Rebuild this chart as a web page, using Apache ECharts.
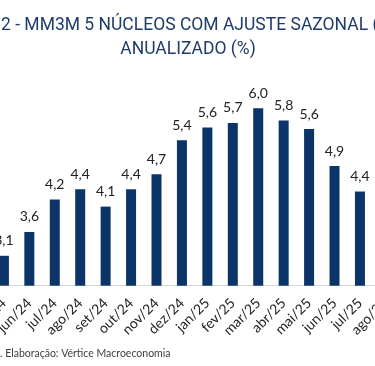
<!DOCTYPE html>
<html><head><meta charset="utf-8">
<script src="https://cdn.jsdelivr.net/npm/echarts@6/dist/echarts.min.js"></script>
<style>html,body{margin:0;padding:0;overflow:hidden;background:#fff;width:375px;height:366px;position:relative}
#c{position:absolute;left:-20px;top:0;width:430px;height:366px}</style>
</head><body><div id="c"></div>
<script>
const categories = ['mai/24','jun/24','jul/24','ago/24','set/24','out/24','nov/24','dez/24','jan/25','fev/25','mar/25','abr/25','mai/25','jun/25','jul/25','ago/25'];
const values = [3.09, 3.56, 4.20, 4.40, 4.06, 4.40, 4.70, 5.37, 5.62, 5.71, 6.00, 5.76, 5.59, 4.86, 4.36, null];
const titleLine1 = '2 - MM3M 5 NÚCLEOS COM AJUSTE SAZONAL (';
const titleLine2 = 'ANUALIZADO (%)';
const footer = '. Elaboração: Vértice Macroeconomia';

const chart = echarts.init(document.getElementById('c'), null, {renderer:'canvas'});
const OX = 20; // container offset
chart.setOption({
  animation:false,
  backgroundColor:'#fff',
  graphic:[
    {type:'text', left:OX+1, top:17, style:{text:titleLine1, fill:'#1F3B6B', font:'17.5px Roboto'}},
    {type:'text', x:OX+188, y:41, style:{text:titleLine2, fill:'#1F3B6B', font:'17.5px Roboto', textAlign:'center', textVerticalAlign:'top'}},
    {type:'text', left:OX+0, top:348, style:{text:footer, fill:'#404040', font:'10.5px Lato'}}
  ],
  grid:{left:11.2, right:11.9, top:82.9, bottom:80.3, containLabel:false, outerBoundsMode:'none'},
  xAxis:{type:'category', data:categories,
    axisLine:{lineStyle:{color:'#D9D9D9', width:1}}, axisTick:{show:false},
    axisLabel:{rotate:45, margin:15, color:'#222', fontSize:14, fontFamily:'Lato', interval:0}},
  yAxis:{type:'value', min:2.5, max:6.5, show:false, splitLine:{show:false}},
  series:[{type:'bar', data:values, barWidth:10, itemStyle:{color:'#0B3468'},
    label:{show:true, position:'top', distance:8, color:'#222', fontSize:14, fontFamily:'Lato',
      formatter:p=>p.value==null?'':p.value.toFixed(1).replace('.',',')}}]
});
</script></body></html>
